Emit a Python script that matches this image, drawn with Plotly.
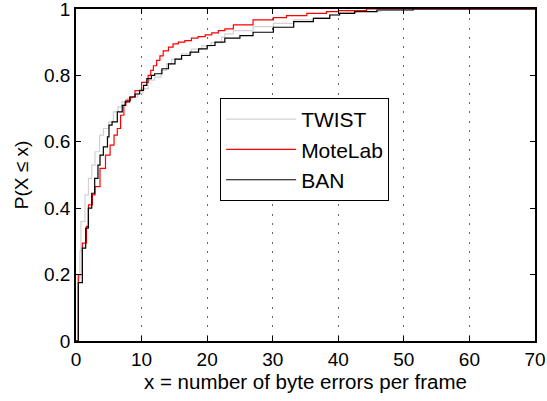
import plotly.graph_objects as go

# Step positions (x) and cumulative probabilities P(X<=x)
twist_x = [0, 0.35, 0.6, 0.75, 1.37, 1.9, 2.4, 2.9, 3.6, 4.2, 5.0, 5.7, 6.4, 7.0, 7.8, 8.6, 9.4,
           10.2, 11.0, 12.0, 13.0, 13.8, 14.6, 16.1, 17.6, 19.2, 20.6, 22.2, 22.7, 24.0, 27.0,
           30.1, 33.2, 36.2, 38.7, 40.2, 42.8, 46.4, 51.4, 70]
twist_p = [0, 0.19, 0.27, 0.36, 0.44, 0.49, 0.53, 0.57, 0.62, 0.64, 0.66, 0.69, 0.705, 0.72, 0.73,
           0.735, 0.745, 0.76, 0.786, 0.795, 0.815, 0.835, 0.849, 0.864, 0.879, 0.889, 0.899,
           0.915, 0.925, 0.935, 0.947, 0.957, 0.967, 0.974, 0.982, 0.99, 0.993, 0.997, 1.0, 1.0]

motelab_x = [0, 0.35, 0.97, 1.6, 1.9, 2.5, 2.9, 3.66, 4.5, 5.2, 5.8, 6.3, 6.8, 7.3, 7.6, 8.3, 9.0,
             10.0, 11.0, 11.4, 11.8, 12.3, 12.8, 13.3, 14.1, 14.8, 15.6, 16.6, 17.6, 18.6, 19.7,
             20.7, 21.7, 22.7, 24.0, 27.0, 30.1, 32.1, 35.2, 38.2, 40.0, 44.3, 70]
motelab_p = [0, 0.2, 0.295, 0.345, 0.41, 0.44, 0.465, 0.52, 0.56, 0.59, 0.62, 0.64, 0.68, 0.71,
             0.725, 0.735, 0.754, 0.779, 0.80, 0.815, 0.829, 0.845, 0.859, 0.874, 0.885, 0.895,
             0.9, 0.905, 0.912, 0.917, 0.922, 0.928, 0.935, 0.94, 0.952, 0.967, 0.974, 0.98,
             0.987, 0.992, 0.995, 1.0, 1.0]

ban_x = [0, 0.35, 0.97, 1.48, 1.88, 2.4, 2.85, 3.35, 3.66, 4.17, 4.8, 5.03, 5.5, 6.3, 7.05, 7.5,
         8.2, 9.0, 9.7, 10.3, 10.8, 11.5, 12.0, 13.1, 14.1, 15.1, 16.1, 17.4, 18.7, 20.0, 21.2,
         22.7, 25.0, 27.0, 30.1, 33.2, 36.2, 38.7, 40.2, 42.5, 45.9, 51.4, 70]
ban_p = [0, 0.176, 0.28, 0.34, 0.40, 0.445, 0.49, 0.53, 0.56, 0.585, 0.615, 0.65, 0.66, 0.69,
         0.71, 0.72, 0.735, 0.744, 0.755, 0.77, 0.79, 0.80, 0.805, 0.82, 0.835, 0.849, 0.86,
         0.87, 0.88, 0.89, 0.9, 0.912, 0.92, 0.93, 0.945, 0.962, 0.972, 0.982, 0.987, 0.992,
         0.997, 1.0, 1.0]

x_ticks = [0, 10, 20, 30, 40, 50, 60, 70]
y_ticks = [0, 0.2, 0.4, 0.6, 0.8, 1]
y_tick_labels = ["0", "0.2", "0.4", "0.6", "0.8", "1"]

FONT = "Liberation Sans, Arial, sans-serif"

fig = go.Figure()
fig.add_trace(go.Scatter(x=twist_x, y=twist_p, mode="lines", name="TWIST",
                         line=dict(color="#d2d2d2", width=1.2, shape="hv")))
fig.add_trace(go.Scatter(x=motelab_x, y=motelab_p, mode="lines", name="MoteLab",
                         line=dict(color="#ff0000", width=1.2, shape="hv")))
fig.add_trace(go.Scatter(x=ban_x, y=ban_p, mode="lines", name="BAN",
                         line=dict(color="#000000", width=1.2, shape="hv")))

fig.update_layout(
    width=547, height=401,
    margin=dict(l=76, r=12, t=9, b=60),
    paper_bgcolor="white", plot_bgcolor="white",
    font=dict(family=FONT, size=19, color="black"),
    showlegend=True,
    legend=dict(x=0.314, y=0.732, xanchor="left", yanchor="top",
                bgcolor="white", bordercolor="black", borderwidth=1,
                font=dict(family=FONT, size=21, color="black"),
                itemwidth=70, tracegroupgap=0),
)
fig.update_xaxes(range=[0, 70], tickvals=x_ticks, ticks="inside", ticklen=5,
                 tickcolor="black", showline=True, linecolor="black", linewidth=1.5,
                 mirror="ticks", showgrid=True, gridcolor="#666666", griddash="2px,7.3px",
                 gridwidth=1, zeroline=False, automargin=False,
                 ticklabeloverflow="allow",
                 tickfont=dict(family=FONT, size=19),
                 title=dict(text="x = number of byte errors per frame",
                            font=dict(family=FONT, size=20.5), standoff=2))
fig.update_yaxes(range=[0, 1], tickvals=y_ticks, ticktext=y_tick_labels, ticks="inside",
                 ticklen=5, tickcolor="black", showline=True, linecolor="black",
                 linewidth=1.5, mirror="ticks", showgrid=False, zeroline=False,
                 automargin=False, ticklabeloverflow="allow",
                 tickfont=dict(family=FONT, size=19),
                 title=dict(text="P(X \u2264 x)", font=dict(family=FONT, size=19), standoff=10))

fig.write_html("out.html", post_script="document.body.style.margin='0';",
               config={"displayModeBar": False})
